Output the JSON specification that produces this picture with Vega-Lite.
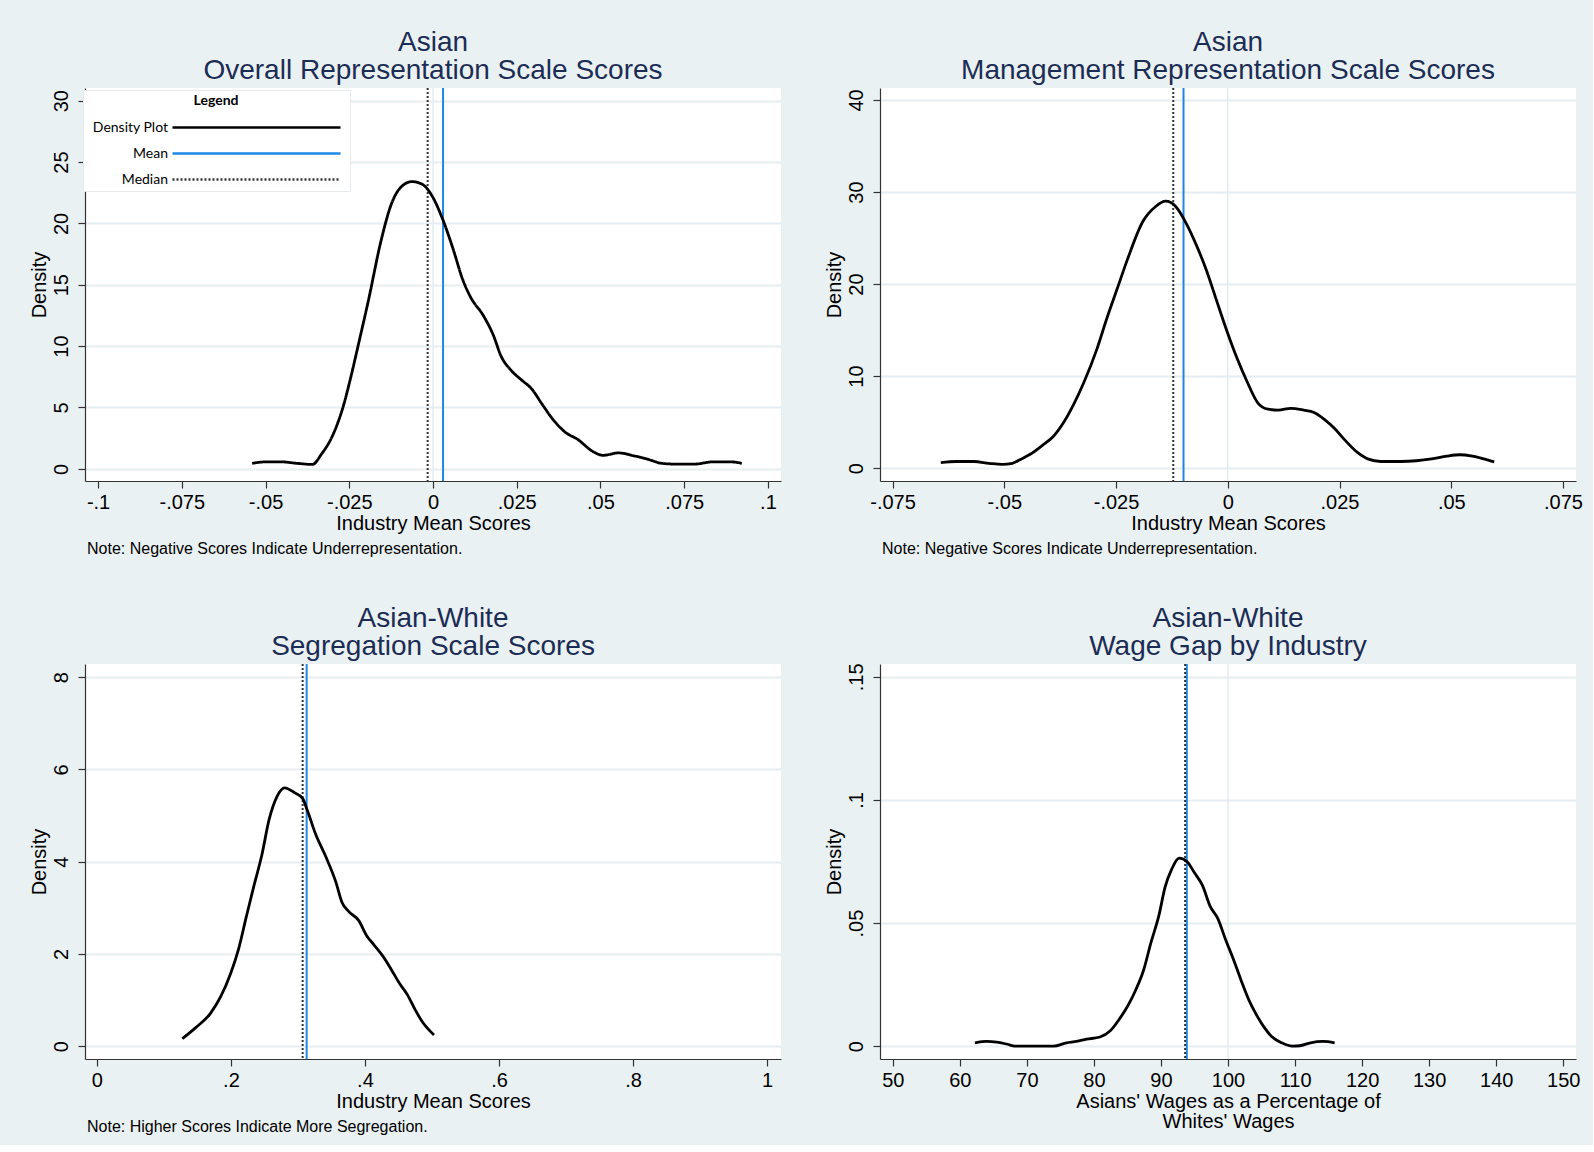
{
  "$schema": "https://vega.github.io/schema/vega-lite/v6.json",
  "background": "#eaf1f3",
  "padding": {"left": 29, "top": 29, "right": 10, "bottom": 10},
  "config": {
    "font": "Liberation Sans",
    "view": {"fill": "white", "stroke": null},
    "axis": {
      "domainColor": "#333333", "domainWidth": 1.2,
      "tickColor": "#333333", "tickSize": 7, "tickWidth": 1.2,
      "labelFont": "Liberation Sans", "labelFontSize": 20, "labelColor": "black",
      "titleFont": "Liberation Sans", "titleFontSize": 20, "titleFontWeight": "normal", "titleColor": "black",
      "gridColor": "#e6eef1", "gridWidth": 2,
      "labelFlush": false, "labelOverlap": false
    },
    "axisX": {"grid": false, "labelPadding": 4, "titlePadding": 1},
    "axisY": {"grid": true, "labelAngle": -90, "labelAlign": "center", "labelBaseline": "bottom", "labelPadding": 7, "titlePadding": 2},
    "title": {"font": "Liberation Sans", "fontWeight": "normal"}
  },
  "datasets": {
    "tl_density": [
      {"x": -0.054, "y": 0.45}, {"x": -0.0497, "y": 0.57}, {"x": -0.0452, "y": 0.57}, {"x": -0.0406, "y": 0.45},
      {"x": -0.036, "y": 0.36}, {"x": -0.0333, "y": 1.2}, {"x": -0.030, "y": 2.7}, {"x": -0.0269, "y": 5.0},
      {"x": -0.0246, "y": 7.4}, {"x": -0.0223, "y": 10.1}, {"x": -0.0193, "y": 13.7}, {"x": -0.0155, "y": 18.6},
      {"x": -0.0124, "y": 21.6}, {"x": -0.0094, "y": 23.0}, {"x": -0.0063, "y": 23.4}, {"x": -0.0033, "y": 23.2},
      {"x": -0.0002, "y": 22.2}, {"x": 0.0028, "y": 20.4}, {"x": 0.0059, "y": 18.0}, {"x": 0.0089, "y": 15.4},
      {"x": 0.0112, "y": 14.0}, {"x": 0.015, "y": 12.5}, {"x": 0.018, "y": 10.9}, {"x": 0.0203, "y": 9.2},
      {"x": 0.0234, "y": 8.0}, {"x": 0.0264, "y": 7.25}, {"x": 0.0295, "y": 6.5}, {"x": 0.0325, "y": 5.3},
      {"x": 0.0356, "y": 4.1}, {"x": 0.0394, "y": 3.0}, {"x": 0.0432, "y": 2.4}, {"x": 0.0478, "y": 1.4},
      {"x": 0.0508, "y": 1.1}, {"x": 0.0554, "y": 1.3}, {"x": 0.06, "y": 1.06}, {"x": 0.0645, "y": 0.75},
      {"x": 0.0683, "y": 0.45}, {"x": 0.0721, "y": 0.39}, {"x": 0.0782, "y": 0.39}, {"x": 0.0835, "y": 0.57},
      {"x": 0.0889, "y": 0.57}, {"x": 0.0922, "y": 0.45}
    ],
    "tr_density": [
      {"x": -0.0642, "y": 0.6}, {"x": -0.0608, "y": 0.72}, {"x": -0.0568, "y": 0.72}, {"x": -0.0534, "y": 0.52},
      {"x": -0.0505, "y": 0.4}, {"x": -0.0482, "y": 0.52}, {"x": -0.0465, "y": 0.92}, {"x": -0.0442, "y": 1.5},
      {"x": -0.0414, "y": 2.5}, {"x": -0.0391, "y": 3.4}, {"x": -0.0368, "y": 4.9}, {"x": -0.0345, "y": 6.9},
      {"x": -0.0322, "y": 9.3}, {"x": -0.0293, "y": 12.9}, {"x": -0.0271, "y": 16.2}, {"x": -0.0248, "y": 19.4},
      {"x": -0.0225, "y": 22.6}, {"x": -0.019, "y": 26.8}, {"x": -0.0162, "y": 28.4}, {"x": -0.0139, "y": 29.0},
      {"x": -0.0116, "y": 28.4}, {"x": -0.0093, "y": 26.6}, {"x": -0.007, "y": 24.2}, {"x": -0.0047, "y": 21.4},
      {"x": -0.0025, "y": 18.2}, {"x": -0.0002, "y": 14.9}, {"x": 0.0021, "y": 11.9}, {"x": 0.0044, "y": 9.3},
      {"x": 0.0067, "y": 7.1}, {"x": 0.009, "y": 6.4}, {"x": 0.0113, "y": 6.3}, {"x": 0.0141, "y": 6.5},
      {"x": 0.017, "y": 6.3}, {"x": 0.0193, "y": 6.05}, {"x": 0.0216, "y": 5.3}, {"x": 0.0239, "y": 4.3},
      {"x": 0.0261, "y": 3.1}, {"x": 0.029, "y": 1.7}, {"x": 0.0313, "y": 1.0}, {"x": 0.0342, "y": 0.72},
      {"x": 0.0387, "y": 0.72}, {"x": 0.0422, "y": 0.8}, {"x": 0.0456, "y": 1.0}, {"x": 0.049, "y": 1.3},
      {"x": 0.0519, "y": 1.45}, {"x": 0.0547, "y": 1.3}, {"x": 0.057, "y": 1.04}, {"x": 0.0596, "y": 0.68}
    ],
    "bl_density": [
      {"x": 0.1275, "y": 0.16}, {"x": 0.1466, "y": 0.39}, {"x": 0.1695, "y": 0.71}, {"x": 0.1847, "y": 1.07},
      {"x": 0.2, "y": 1.59}, {"x": 0.2115, "y": 2.11}, {"x": 0.2229, "y": 2.8}, {"x": 0.2344, "y": 3.48},
      {"x": 0.2458, "y": 4.12}, {"x": 0.2573, "y": 4.93}, {"x": 0.2687, "y": 5.41}, {"x": 0.2802, "y": 5.6},
      {"x": 0.2954, "y": 5.49}, {"x": 0.3069, "y": 5.37}, {"x": 0.3145, "y": 5.09}, {"x": 0.326, "y": 4.61},
      {"x": 0.3412, "y": 4.12}, {"x": 0.3565, "y": 3.56}, {"x": 0.3656, "y": 3.12}, {"x": 0.3756, "y": 2.92},
      {"x": 0.3908, "y": 2.72}, {"x": 0.4023, "y": 2.4}, {"x": 0.4137, "y": 2.19}, {"x": 0.4267, "y": 1.95},
      {"x": 0.4405, "y": 1.63}, {"x": 0.4519, "y": 1.35}, {"x": 0.4634, "y": 1.11}, {"x": 0.4748, "y": 0.79},
      {"x": 0.4863, "y": 0.51}, {"x": 0.503, "y": 0.24}
    ],
    "br_density": [
      {"x": 62.25, "y": 0.00135}, {"x": 64.0, "y": 0.0019}, {"x": 65.5, "y": 0.0016}, {"x": 67.1, "y": 0.00075},
      {"x": 68.2, "y": 0.0}, {"x": 70.9, "y": 0.0}, {"x": 74.0, "y": 0.0}, {"x": 75.9, "y": 0.00135},
      {"x": 77.4, "y": 0.0019}, {"x": 78.9, "y": 0.0028}, {"x": 80.9, "y": 0.0037}, {"x": 82.4, "y": 0.0061},
      {"x": 83.9, "y": 0.0114}, {"x": 85.1, "y": 0.0166}, {"x": 86.2, "y": 0.0226}, {"x": 87.4, "y": 0.0308},
      {"x": 88.5, "y": 0.042}, {"x": 89.7, "y": 0.0532}, {"x": 90.6, "y": 0.0645}, {"x": 91.6, "y": 0.0719},
      {"x": 92.7, "y": 0.0764}, {"x": 93.9, "y": 0.0749}, {"x": 95.0, "y": 0.0704}, {"x": 96.2, "y": 0.0652},
      {"x": 97.3, "y": 0.057}, {"x": 98.5, "y": 0.0517}, {"x": 99.6, "y": 0.0435}, {"x": 100.8, "y": 0.0353},
      {"x": 101.9, "y": 0.0271}, {"x": 103.1, "y": 0.0188}, {"x": 104.2, "y": 0.0129}, {"x": 105.4, "y": 0.0076},
      {"x": 106.5, "y": 0.0039}, {"x": 108.0, "y": 0.00135}, {"x": 109.6, "y": 0.0}, {"x": 110.7, "y": 0.00015},
      {"x": 112.3, "y": 0.00135}, {"x": 114.2, "y": 0.0019}, {"x": 115.9, "y": 0.00135}
    ],
    "tl_stats": [{"series": "Median", "x": -0.0016}, {"series": "Mean", "x": 0.003}],
    "tr_stats": [{"series": "Median", "x": -0.0122}, {"series": "Mean", "x": -0.0099}],
    "bl_stats": [{"series": "Median", "x": 0.307}, {"series": "Mean", "x": 0.313}],
    "br_stats": [{"series": "Median", "x": 93.6}, {"series": "Mean", "x": 93.85}],
    "ref_zero": [{"x": 0}],
    "ref_100": [{"x": 100}]
  },
  "vconcat": [
    {
      "hconcat": [
        {
          "title": {"text": "Note: Negative Scores Indicate Underrepresentation.", "orient": "bottom", "anchor": "start", "fontSize": 16, "color": "black", "dx": 58, "offset": 8},
          "resolve": {"scale": {"color": "independent", "strokeDash": "independent"}, "legend": {"color": "independent", "strokeDash": "independent"}},
          "vconcat": [
            {
              "title": {"text": ["Asian", "Overall Representation Scale Scores"], "anchor": "middle", "frame": "group", "fontSize": 28, "lineHeight": 28, "color": "#1c2d55", "offset": 2},
              "width": 696, "height": 393,
              "encoding": {
                "x": {"field": "x", "type": "quantitative", "scale": {"domain": [-0.1039, 0.1039], "nice": false, "zero": false},
                  "axis": {"title": "Industry Mean Scores", "values": [-0.1, -0.075, -0.05, -0.025, 0, 0.025, 0.05, 0.075, 0.1], "labelExpr": "replace(toString(datum.value), regexp('^(-?)0\\\\.'), '$1.')"}}
              },
              "layer": [
                {"data": {"name": "ref_zero"}, "mark": {"type": "rule", "color": "#e3ecef", "strokeWidth": 1.5}, "encoding": {}},
                {"data": {"name": "tl_stats"}, "mark": {"type": "rule", "strokeWidth": 2},
                  "encoding": {
                    "color": {"field": "series", "type": "nominal", "scale": {"domain": ["Density Plot", "Mean", "Median"], "range": ["#000000", "#1e88e5", "#333333"]},
                      "legend": {"orient": "none", "legendX": -2, "legendY": 2, "title": "Legend", "titleFont": "Lato", "titleFontWeight": "bold", "titleFontSize": 14, "titleColor": "black", "titleAnchor": "middle", "titlePadding": 10, "labelFont": "Lato", "labelFontSize": 14, "labelColor": "black", "labelAlign": "right", "labelOffset": 62, "symbolType": "M9.5,0H30.5", "symbolSize": 256, "symbolStrokeWidth": 2.5, "fillColor": "white", "strokeColor": "#e6eaec", "padding": 4, "rowPadding": 9}},
                    "strokeDash": {"field": "series", "type": "nominal", "scale": {"domain": ["Density Plot", "Mean", "Median"], "range": [[1, 0], [1, 0], [2, 2]]}, "legend": null}
                  }},
                {"data": {"name": "tl_density"}, "transform": [{"calculate": "'Density Plot'", "as": "series"}],
                  "mark": {"type": "line", "strokeWidth": 2.8, "interpolate": "monotone"},
                  "encoding": {
                    "y": {"field": "y", "type": "quantitative", "scale": {"domain": [-0.99, 31.03], "nice": false, "zero": false},
                      "axis": {"title": "Density", "values": [0, 5, 10, 15, 20, 25, 30]}},
                    "color": {"field": "series", "type": "nominal"},
                    "strokeDash": {"field": "series", "type": "nominal"}
                  }}
              ]
            }
          ]
        },
        {
          "title": {"text": "Note: Negative Scores Indicate Underrepresentation.", "orient": "bottom", "anchor": "start", "fontSize": 16, "color": "black", "dx": 58, "offset": 8},
          "vconcat": [
            {
              "title": {"text": ["Asian", "Management Representation Scale Scores"], "anchor": "middle", "frame": "group", "fontSize": 28, "lineHeight": 28, "color": "#1c2d55", "offset": 2},
              "width": 696, "height": 393,
              "encoding": {
                "x": {"field": "x", "type": "quantitative", "scale": {"domain": [-0.0778, 0.0779], "nice": false, "zero": false},
                  "axis": {"title": "Industry Mean Scores", "values": [-0.075, -0.05, -0.025, 0, 0.025, 0.05, 0.075], "labelExpr": "replace(toString(datum.value), regexp('^(-?)0\\\\.'), '$1.')"}}
              },
              "layer": [
                {"data": {"name": "ref_zero"}, "mark": {"type": "rule", "color": "#e3ecef", "strokeWidth": 1.5}, "encoding": {}},
                {"data": {"name": "tr_stats"}, "transform": [{"filter": "datum.series === 'Median'"}], "mark": {"type": "rule", "strokeWidth": 2, "color": "#333333", "strokeDash": [2, 2]}, "encoding": {}},
                {"data": {"name": "tr_stats"}, "transform": [{"filter": "datum.series === 'Mean'"}], "mark": {"type": "rule", "strokeWidth": 2, "color": "#1e88e5"}, "encoding": {}},
                {"data": {"name": "tr_density"},
                  "mark": {"type": "line", "strokeWidth": 2.8, "interpolate": "monotone", "color": "black"},
                  "encoding": {
                    "y": {"field": "y", "type": "quantitative", "scale": {"domain": [-1.4, 41.3], "nice": false, "zero": false},
                      "axis": {"title": "Density", "values": [0, 10, 20, 30, 40]}}
                  }}
              ]
            }
          ]
        }
      ],
      "spacing": 43,
      "resolve": {"scale": {"color": "independent", "strokeDash": "independent"}, "legend": {"color": "independent", "strokeDash": "independent"}}
    },
    {
      "hconcat": [
        {
          "title": {"text": "Note: Higher Scores Indicate More Segregation.", "orient": "bottom", "anchor": "start", "fontSize": 16, "color": "black", "dx": 58, "offset": 8},
          "vconcat": [
            {
              "title": {"text": ["Asian-White", "Segregation Scale Scores"], "anchor": "middle", "frame": "group", "fontSize": 28, "lineHeight": 28, "color": "#1c2d55", "offset": 2},
              "width": 696, "height": 395,
              "encoding": {
                "x": {"field": "x", "type": "quantitative", "scale": {"domain": [-0.0177, 1.0207], "nice": false, "zero": false},
                  "axis": {"title": "Industry Mean Scores", "values": [0, 0.2, 0.4, 0.6, 0.8, 1], "labelExpr": "replace(toString(datum.value), regexp('^(-?)0\\\\.'), '$1.')"}}
              },
              "layer": [
                {"data": {"name": "bl_stats"}, "transform": [{"filter": "datum.series === 'Median'"}], "mark": {"type": "rule", "strokeWidth": 2, "color": "#333333", "strokeDash": [2, 2]}, "encoding": {}},
                {"data": {"name": "bl_stats"}, "transform": [{"filter": "datum.series === 'Mean'"}], "mark": {"type": "rule", "strokeWidth": 2, "color": "#1e88e5"}, "encoding": {}},
                {"data": {"name": "bl_density"},
                  "mark": {"type": "line", "strokeWidth": 2.8, "interpolate": "monotone", "color": "black"},
                  "encoding": {
                    "y": {"field": "y", "type": "quantitative", "scale": {"domain": [-0.28, 8.284], "nice": false, "zero": false},
                      "axis": {"title": "Density", "values": [0, 2, 4, 6, 8]}}
                  }}
              ]
            }
          ]
        },
        {
          "title": {"text": ["Asian-White", "Wage Gap by Industry"], "anchor": "middle", "frame": "group", "fontSize": 28, "lineHeight": 28, "color": "#1c2d55", "offset": 2},
          "width": 696, "height": 395,
          "encoding": {
            "x": {"field": "x", "type": "quantitative", "scale": {"domain": [48.09, 151.9], "nice": false, "zero": false},
              "axis": {"title": ["Asians' Wages as a Percentage of", "Whites' Wages"], "titleLineHeight": 20, "values": [50, 60, 70, 80, 90, 100, 110, 120, 130, 140, 150]}}
          },
          "layer": [
            {"data": {"name": "ref_100"}, "mark": {"type": "rule", "color": "#e3ecef", "strokeWidth": 1.5}, "encoding": {}},
            {"data": {"name": "br_stats"}, "transform": [{"filter": "datum.series === 'Mean'"}], "mark": {"type": "rule", "strokeWidth": 2, "color": "#1e88e5"}, "encoding": {}},
            {"data": {"name": "br_stats"}, "transform": [{"filter": "datum.series === 'Median'"}], "mark": {"type": "rule", "strokeWidth": 2, "color": "#333333", "strokeDash": [2, 2]}, "encoding": {}},
            {"data": {"name": "br_density"},
              "mark": {"type": "line", "strokeWidth": 2.8, "interpolate": "monotone", "color": "black"},
              "encoding": {
                "y": {"field": "y", "type": "quantitative", "scale": {"domain": [-0.00524, 0.15524], "nice": false, "zero": false},
                  "axis": {"title": "Density", "values": [0, 0.05, 0.1, 0.15], "labelExpr": "replace(toString(datum.value), regexp('^(-?)0\\\\.'), '$1.')"}}
              }}
          ]
        }
      ],
      "spacing": 43
    }
  ],
  "spacing": 47,
  "resolve": {"scale": {"color": "independent", "strokeDash": "independent"}, "legend": {"color": "independent", "strokeDash": "independent"}}
}
